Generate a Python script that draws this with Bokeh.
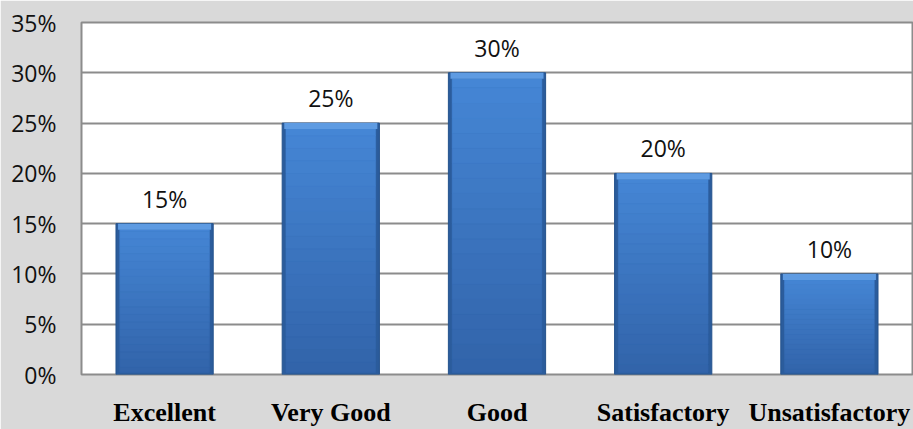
from bokeh.plotting import figure
from bokeh.models import ColumnDataSource, FixedTicker, NumeralTickFormatter, FactorRange, Range1d
from bokeh.core.properties import value
from bokeh.embed import file_html
from bokeh.resources import INLINE

categories = ["Excellent", "Very Good", "Good", "Satisfactory", "Unsatisfactory"]
shares = [0.15, 0.25, 0.30, 0.20, 0.10]
share_labels = ["15%", "25%", "30%", "20%", "10%"]
y_ticks = [0, 0.05, 0.10, 0.15, 0.20, 0.25, 0.30, 0.35]

bevel = 0.006
src = ColumnDataSource(dict(
    cat=categories,
    val=shares,
    inner=[v - bevel for v in shares],
    lab=share_labels,
))

p = figure(
    x_range=FactorRange(*categories, range_padding=0),
    y_range=Range1d(0, 0.35),
    width=913, height=429,
    output_backend="svg", toolbar_location=None,
    min_border_left=81, min_border_right=1, min_border_top=22, min_border_bottom=55,
)
p.background_fill_color = "white"
p.border_fill_color = "#d9d9d9"
p.outline_line_color = "#8c8c8c"
p.outline_line_width = 2

# bars: darker shell, graded body, top highlight (simulated vertical gradient)
p.vbar(x="cat", top="val", width=0.585, source=src, fill_color="#2b5c9c", line_color="#24528c", line_width=1)
grad_bottom = (0x31, 0x63, 0xa9)
grad_top = (0x46, 0x87, 0xd6)
n = 20
for i in range(n):
    t = (i + 0.5) / n
    rgb = tuple(round(a + (b - a) * t) for a, b in zip(grad_bottom, grad_top))
    c = "#%02x%02x%02x" % rgb
    lo = [max(v * i / n, 0.002) for v in shares]
    hi = [min(v * (i + 1) / n, v - bevel) for v in shares]
    p.vbar(x=categories, bottom=lo, top=hi, width=0.54, fill_color=c, line_color=c, line_width=0.5)
p.vbar(x="cat", top="val", bottom="inner", width=0.56, source=src, fill_color="#5e9be2", line_color=None)

p.text(x="cat", y="val", text="lab", source=src, y_offset=-25,
       text_align="center", text_baseline="alphabetic",
       text_font=value("Open Sans"), text_font_size="23px", text_color="#111111")

p.yaxis.ticker = FixedTicker(ticks=y_ticks)
p.yaxis.formatter = NumeralTickFormatter(format="0%")
p.yaxis.major_label_text_font = "Open Sans"
p.yaxis.major_label_text_font_size = "23px"
p.yaxis.major_label_text_color = "#111111"
p.yaxis.major_label_standoff = 19
p.yaxis.axis_line_color = None
p.yaxis.major_tick_line_color = None
p.yaxis.minor_tick_line_color = None

p.xaxis.major_label_text_font = "Liberation Serif"
p.xaxis.major_label_text_font_style = "bold"
p.xaxis.major_label_text_font_size = "26px"
p.xaxis.major_label_text_color = "#000000"
p.xaxis.major_label_standoff = 17
p.xaxis.axis_line_color = None
p.xaxis.major_tick_line_color = None
p.xaxis.minor_tick_line_color = None

p.xgrid.grid_line_color = None
p.ygrid.grid_line_color = "#8c8c8c"
p.ygrid.grid_line_width = 2

html = file_html(p, INLINE)
open("out.html", "w").write(html)
